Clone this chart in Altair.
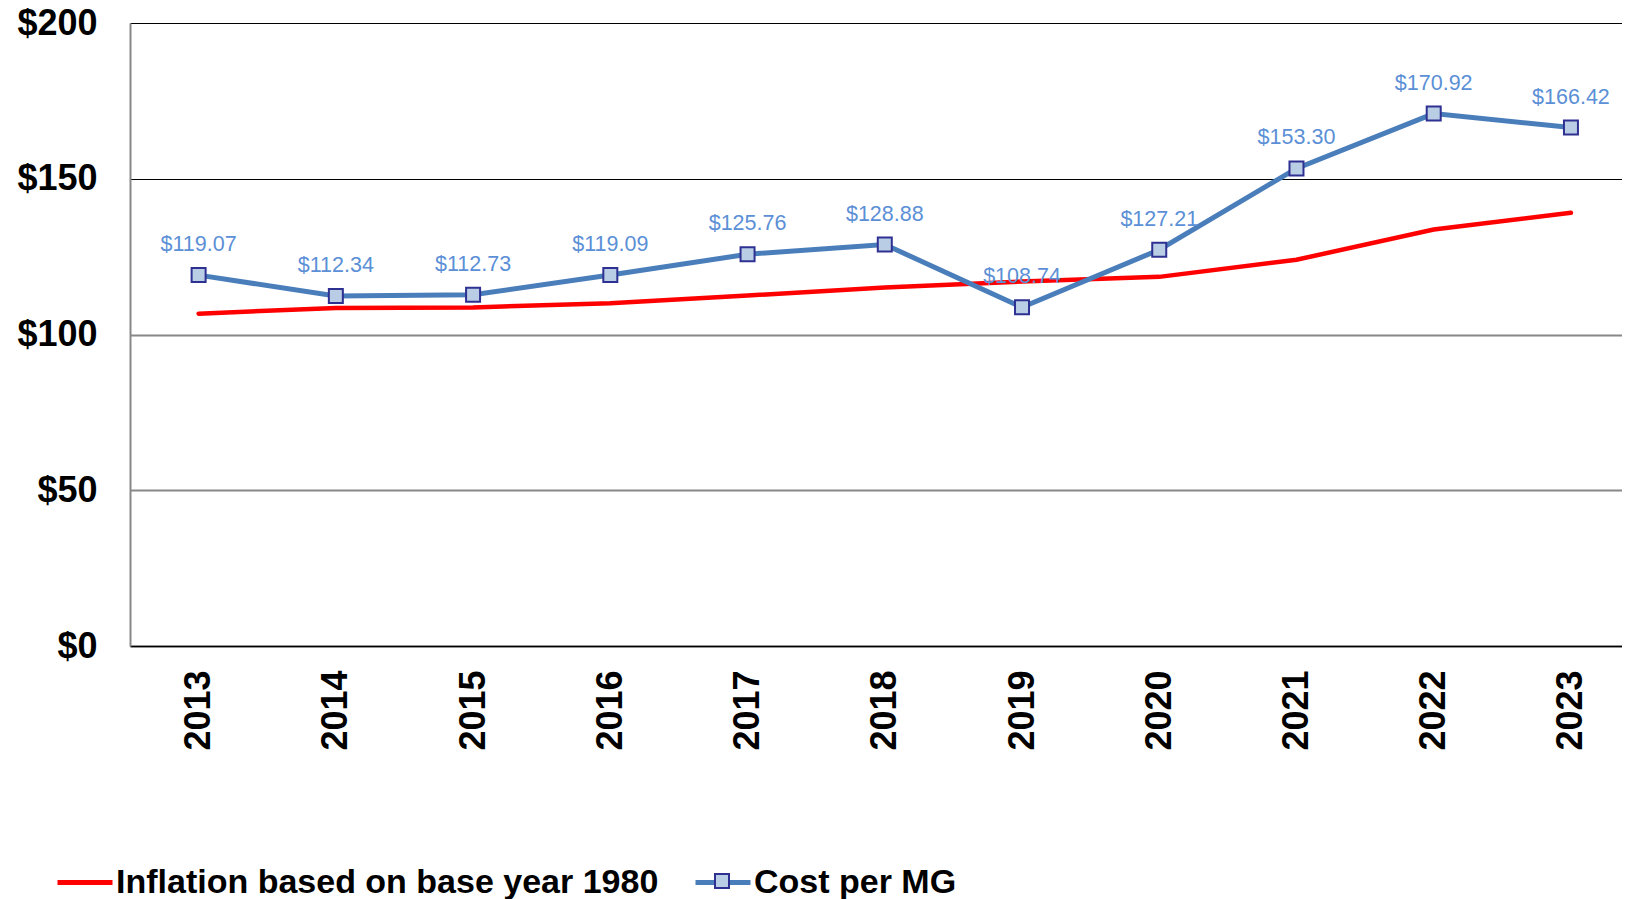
import altair as alt
import pandas as pd

# ---- data ----
years = list(range(2013, 2024))
cost_per_mg = [119.07, 112.34, 112.73, 119.09, 125.76, 128.88, 108.74, 127.21, 153.30, 170.92, 166.42]
inflation = [106.7, 108.5, 108.7, 110.0, 112.5, 115.1, 117.0, 118.5, 124.0, 133.7, 139.1]
series_names = ["Inflation based on base year 1980", "Cost per MG"]
y_ticks = [0, 50, 100, 150, 200]

infl_df = pd.DataFrame({"year": years, "value": inflation, "series": series_names[0]})
cost_df = pd.DataFrame({"year": years, "value": cost_per_mg, "series": series_names[1],
                        "marker": series_names[1]})

FONT = "Liberation Sans"
RED = "#FF0000"
BLUE = "#4A7EBB"
MARK_FILL = "#B9CDE5"
MARK_STROKE = "#2E3192"
LABEL_BLUE = "#5B8FD6"

x_enc = alt.X(
    "year:Q",
    scale=alt.Scale(domain=[2012.5, 2023.372], nice=False, zero=False),
    axis=alt.Axis(values=years, format="d", labelAngle=-90, ticks=False, tickSize=0,
                  labelPadding=24, labelFontSize=36, labelFontWeight="bold", labelFont=FONT,
                  labelColor="black", domainColor="black", domainWidth=1.5, grid=False,
                  title=None, labelFlush=False, labelOverlap=False),
)
y_enc = alt.Y(
    "value:Q",
    scale=alt.Scale(domain=[0, 200], nice=False, zero=True),
    axis=alt.Axis(values=y_ticks, labelExpr="'$' + datum.value", ticks=False, tickSize=0,
                  labelPadding=33, labelFontSize=36, labelFontWeight="bold", labelFont=FONT,
                  labelColor="black", domainColor="#888888", domainWidth=2, title=None,
                  grid=True,
                  gridColor={"condition": {"test": "datum.value >= 150", "value": "#000000"},
                             "value": "#888888"},
                  gridWidth={"condition": {"test": "datum.value >= 150", "value": 1},
                             "value": 2},
                  labelFlush=False, labelOverlap=False),
)

color_enc = alt.Color(
    "series:N",
    scale=alt.Scale(domain=series_names, range=[RED, BLUE]),
    legend=alt.Legend(orient="none", legendX=-75, legendY=829.5, direction="horizontal",
                      title=None, symbolType="stroke", symbolSize=3025, symbolStrokeWidth=5,
                      labelFontSize=34, labelFont=FONT, labelFontWeight="bold",
                      labelColor="black", labelOffset=1, labelLimit=2000, columnPadding=26,
                      padding=0, symbolOpacity=1),
)

red_line = alt.Chart(infl_df).mark_line(strokeWidth=4.5, strokeCap="round").encode(
    x=x_enc, y=y_enc, color=color_enc)

blue_line = alt.Chart(cost_df).mark_line(strokeWidth=5).encode(
    x=x_enc, y=y_enc, color=color_enc)

points = alt.Chart(cost_df).mark_point(
    shape="square", filled=True, fill=MARK_FILL, strokeWidth=2, size=196, opacity=1
).encode(
    x=x_enc, y=y_enc,
    stroke=alt.Stroke("marker:N", scale=alt.Scale(domain=[series_names[1]], range=[MARK_STROKE]),
                      legend=alt.Legend(orient="none", legendX=584, legendY=850, title=None,
                                        labelExpr="''", symbolType="square", symbolSize=196,
                                        symbolStrokeWidth=2, symbolFillColor=MARK_FILL,
                                        labelOffset=0, padding=0, symbolOpacity=1)),
)

labels = alt.Chart(cost_df).mark_text(
    dy=-30, fontSize=21.5, font=FONT, color=LABEL_BLUE, baseline="middle", align="center"
).encode(x=x_enc, y=y_enc, text=alt.Text("value:Q", format="$.2f"))

chart = alt.layer(red_line, blue_line, points, labels).properties(
    width=1492, height=623,
    autosize=alt.AutoSizeParams(type="none"),
    padding={"left": 122, "top": 15, "right": 0, "bottom": 262},
).configure_view(stroke=None).configure(background="white")

chart.save("out.html", embed_options={"renderer": "svg", "actions": False})
